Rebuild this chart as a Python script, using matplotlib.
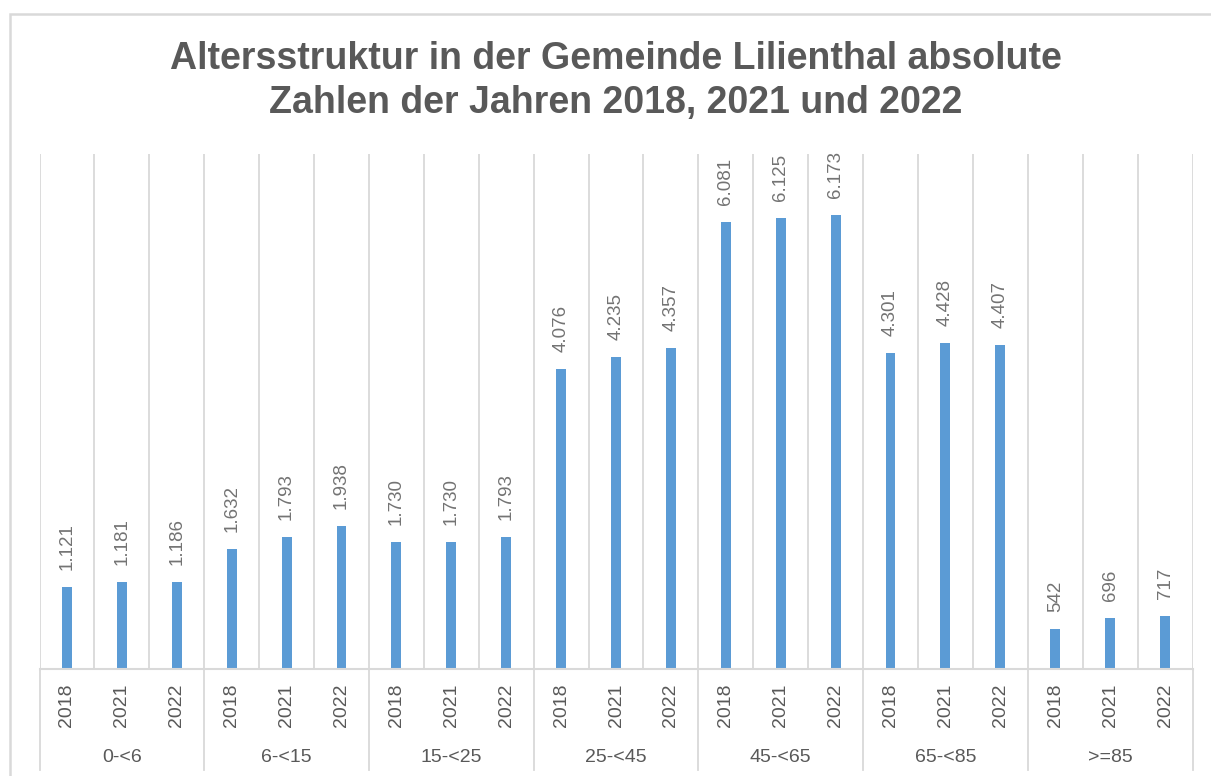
import matplotlib
matplotlib.use("Agg")
import matplotlib.pyplot as plt
from matplotlib.patches import Rectangle
from matplotlib import transforms

plt.rcParams['font.family'] = ['Liberation Sans', 'DejaVu Sans']

groups = ["0-<6", "6-<15", "15-<25", "25-<45", "45-<65", "65-<85", ">=85"]
years = ["2018", "2021", "2022"]
values = [
    [1121, 1181, 1186],
    [1632, 1793, 1938],
    [1730, 1730, 1793],
    [4076, 4235, 4357],
    [6081, 6125, 6173],
    [4301, 4428, 4407],
    [542, 696, 717],
]

W, H = 1211, 776
fig = plt.figure(figsize=(W / 100, H / 100), dpi=100)
fig.patch.set_facecolor('white')

# chart border (right and bottom edges run off the image)
fig.patches.append(Rectangle((10 / W, -0.05), 1.1, (H - 14) / H + 0.05,
                             transform=fig.transFigure, fill=False,
                             edgecolor='#D9D9D9', linewidth=1.8))

left, right, top, bottom = 39.5, 1192.5, 154, 669
ax = fig.add_axes([left / W, (H - bottom) / H, (right - left) / W, (bottom - top) / H])

grid_col = '#D9D9D9'
text_col = '#595959'
label_col = '#737373'
bar_col = '#5B9BD5'

n = len(groups) * len(years)
ax.set_xlim(0, n)
ax.set_ylim(0, 7000)
for s in ['left', 'right', 'top']:
    ax.spines[s].set_visible(False)
ax.spines['bottom'].set_color(grid_col)
ax.spines['bottom'].set_linewidth(1.5)
ax.set_xticks([])
ax.set_yticks([])

for k in range(n + 1):
    ax.axvline(k, color=grid_col, linewidth=1.3, zorder=0)

trans = transforms.blended_transform_factory(ax.transData, ax.transAxes)
px = 1.0 / (bottom - top)

i = 0
for g, (grp, vals) in enumerate(zip(groups, values)):
    for yr, v in zip(years, vals):
        x = i + 0.5
        ax.bar(x, v, width=0.18, color=bar_col, zorder=2)
        lab = f"{v:,}".replace(",", ".")
        ax.annotate(lab, (x, v), xytext=(0, 17), textcoords='offset pixels',
                    rotation=90, ha='center', va='bottom', fontsize=13.5,
                    color=label_col)
        ax.text(x, -36 * px, yr, transform=trans, rotation=90, ha='center',
                va='center', fontsize=14, color=text_col)
        i += 1
    ax.text(g * 3 + 1.5, -88 * px, grp, transform=trans, ha='center',
            va='center', fontsize=14, color=text_col)

# group separators below the axis
for g in range(len(groups) + 1):
    ax.plot([g * 3, g * 3], [0, -101 * px], transform=trans, color=grid_col,
            linewidth=1.3, clip_on=False)

fig.text(616 / W, 1 - 81 / H,
         "Altersstruktur in der Gemeinde Lilienthal absolute\nZahlen der Jahren 2018, 2021 und 2022",
         ha='center', va='center', fontsize=27, fontweight='bold', color=text_col,
         linespacing=1.3)

fig.savefig("out.png", dpi=100)
